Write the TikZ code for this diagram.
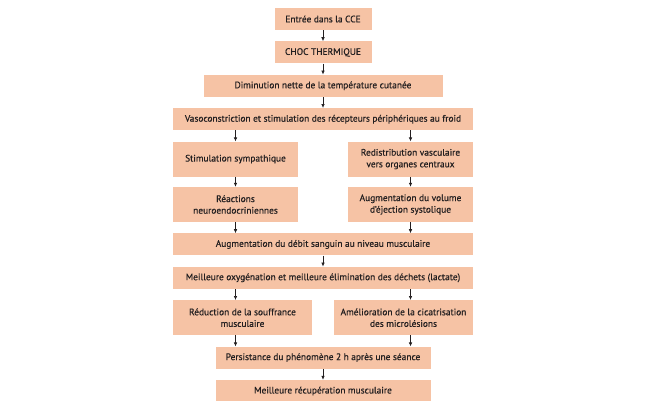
\documentclass[tikz,border=0pt]{standalone}
\usepackage{fontspec}
\setsansfont{PT Sans}[FakeBold=0.5]
\usetikzlibrary{
  arrows.meta,
  positioning
}
\definecolor{flowInk}{HTML}{231F20}
\definecolor{flowPeach}{HTML}{F6C3A5}
\tikzset{
  every node/.style={font=\sffamily\fontsize{9.4}{11.6}\selectfont, text=flowInk},
  stepbox/.style={
    fill=flowPeach,
    draw=none,
    minimum height=22pt,
    inner sep=2pt,
    align=center
  },
  tallbox/.style={
    stepbox,
    minimum height=35pt
  },
  link/.style={
    -{Latex[length=4pt,width=3.6pt]},
    line width=0.7pt,
    draw=flowInk
  }
}

\begin{document}
\begin{tikzpicture}[node distance=11pt and 0pt]
  \useasboundingbox (0pt,0pt) rectangle (655pt,-400pt);
  \node[stepbox, minimum width=97pt] (entree) at (323pt,-19pt) {Entrée dans la CCE};
  \node[stepbox, minimum width=97pt, below=of entree] (choc) {CHOC THERMIQUE};
  \node[stepbox, minimum width=239pt, below=of choc] (temp) {Diminution nette de la température cutanée};
  \node[stepbox, minimum width=300pt, below=of temp] (vaso) {Vasoconstriction et stimulation des récepteurs périphériques au froid};

  \node[tallbox, minimum width=125pt, below right=of vaso.south west] (sympa) {Stimulation sympathique};
  \node[tallbox, minimum width=125pt, below left=of vaso.south east] (redis) {Redistribution vasculaire\\vers organes centraux};
  \node[tallbox, minimum width=125pt, below=10pt of sympa] (neuro) {Réactions\\neuroendocriniennes};
  \node[tallbox, minimum width=125pt, below=10pt of redis] (ejection) {Augmentation du volume\\d’éjection systolique};

  \node[stepbox, minimum width=300pt, below right=of neuro.south west] (debit) {Augmentation du débit sanguin au niveau musculaire};
  \node[stepbox, minimum width=300pt, below=of debit] (oxy) {Meilleure oxygénation et meilleure élimination des déchets (lactate)};

  \node[tallbox, minimum width=139pt, below right=of oxy.south west] (souffrance) {Réduction de la souffrance\\musculaire};
  \node[tallbox, minimum width=139pt, below left=of oxy.south east] (cicat) {Amélioration de la cicatrisation\\des microlésions};

  \coordinate (midrow) at (oxy.south |- souffrance.south);
  \node[stepbox, minimum width=215pt, below=of midrow] (persist) {Persistance du phénomène 2 h après une séance};
  \node[stepbox, minimum width=215pt, below=of persist] (recup) {Meilleure récupération musculaire};

  \draw[link] (entree) -- (choc);
  \draw[link] (choc) -- (temp);
  \draw[link] (temp) -- (vaso);
  \draw[link] (vaso.south -| sympa.north) -- (sympa);
  \draw[link] (vaso.south -| redis.north) -- (redis);
  \draw[link] (sympa) -- (neuro);
  \draw[link] (redis) -- (ejection);
  \draw[link] (neuro) -- (debit.north -| neuro.south);
  \draw[link] (ejection) -- (debit.north -| ejection.south);
  \draw[link] (debit) -- (oxy);
  \draw[link] (oxy.south -| sympa.south) -- (souffrance.north -| sympa.south);
  \draw[link] (oxy.south -| redis.south) -- (cicat.north -| redis.south);
  \draw[link] (souffrance.south -| sympa.south) -- (persist.north -| sympa.south);
  \draw[link] (cicat.south -| redis.south) -- (persist.north -| redis.south);
  \draw[link] (persist) -- (recup);
\end{tikzpicture}
\end{document}
